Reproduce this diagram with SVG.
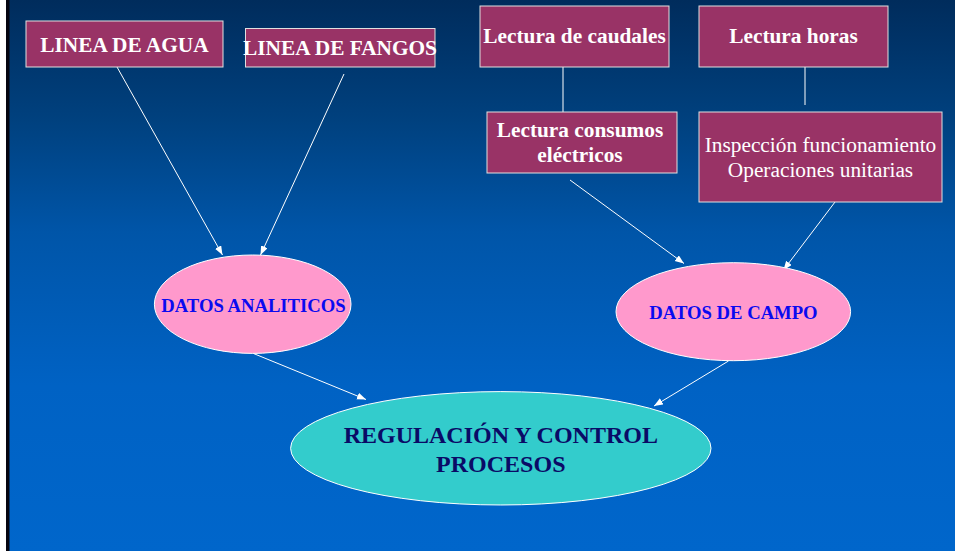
<svg xmlns="http://www.w3.org/2000/svg" width="955" height="551" viewBox="0 0 955 551">
<defs>
<linearGradient id="bg" x1="0" y1="0" x2="0" y2="1">
<stop offset="0" stop-color="#002c5c"/>
<stop offset="0.22" stop-color="#00417f"/>
<stop offset="0.42" stop-color="#0055a8"/>
<stop offset="0.7" stop-color="#0062c4"/>
<stop offset="1" stop-color="#0066cb"/>
</linearGradient>
<marker id="ah" markerUnits="userSpaceOnUse" markerWidth="10" markerHeight="8" refX="9" refY="3.5" orient="auto">
<path d="M0,0 L9,3.5 L0,7 z" fill="#ffffff"/>
</marker>
<style>
.box{fill:#993366;stroke:#e0e0e0;stroke-width:1}
.tb{font-family:"Liberation Serif","Times New Roman",serif;font-weight:bold;font-size:21.33px;fill:#ffffff;text-anchor:middle}
.tr{font-family:"Liberation Serif","Times New Roman",serif;font-size:21.33px;fill:#ffffff;text-anchor:middle}
.pink{fill:#ff99cc;stroke:#ffffff;stroke-width:1}
.cyan{fill:#33cccc;stroke:#ffffff;stroke-width:1}
.eb{font-family:"Liberation Serif","Times New Roman",serif;font-weight:bold;font-size:18.67px;fill:#0a0af0;text-anchor:middle}
.ec{font-family:"Liberation Serif","Times New Roman",serif;font-weight:bold;font-size:24px;fill:#0a0a66;text-anchor:middle}
.ln{stroke:#ffffff;stroke-width:1;fill:none}
.arr{stroke:#ffffff;stroke-width:1;fill:none;marker-end:url(#ah)}
</style>
</defs>
<rect x="0" y="0" width="955" height="551" fill="#ffffff"/>
<rect x="6" y="0" width="4" height="551" fill="#050510"/>
<rect x="9.5" y="0" width="945.5" height="551" fill="url(#bg)"/>

<g id="connectors">
<line class="ln" x1="563" y1="67" x2="563" y2="112"/>
<line class="ln" x1="805" y1="67" x2="805" y2="105"/>
<line class="arr" x1="117" y1="67" x2="222.5" y2="255"/>
<line class="arr" x1="344" y1="74" x2="260.5" y2="255"/>
<line class="arr" x1="570" y1="180" x2="684" y2="263.5"/>
<line class="arr" x1="835" y1="202" x2="783.5" y2="270"/>
<line class="arr" x1="253.5" y1="353.5" x2="366" y2="399.5"/>
<line class="arr" x1="728.5" y1="361" x2="654" y2="406"/>
</g>

<g id="linea-agua">
<rect class="box" x="26" y="21" width="197" height="46"/>
<text class="tb" x="124.5" y="51.5">LINEA DE AGUA</text>
</g>
<g id="linea-fangos">
<rect class="box" x="245.5" y="28.5" width="189.5" height="38.5"/>
<text class="tb" x="340" y="55">LINEA DE FANGOS</text>
</g>
<g id="lectura-caudales">
<rect class="box" x="480" y="6" width="189" height="61"/>
<text class="tb" x="574.5" y="43.3">Lectura de caudales</text>
</g>
<g id="lectura-horas">
<rect class="box" x="699" y="6" width="189" height="61"/>
<text class="tb" x="793.5" y="43.3">Lectura horas</text>
</g>
<g id="lectura-consumos">
<rect class="box" x="487" y="112" width="190" height="61"/>
<text class="tb" x="580" y="136.7">Lectura consumos</text>
<text class="tb" x="580" y="161.7">eléctricos</text>
</g>
<g id="inspeccion">
<rect class="box" x="699" y="112" width="243" height="90"/>
<text class="tr" x="820.5" y="151.7">Inspección funcionamiento</text>
<text class="tr" x="820.5" y="176.7">Operaciones unitarias</text>
</g>
<g id="datos-analiticos">
<ellipse class="pink" cx="252.7" cy="304.2" rx="98.3" ry="49.2"/>
<text class="eb" x="253.5" y="311.7">DATOS ANALITICOS</text>
</g>
<g id="datos-campo">
<ellipse class="pink" cx="733.3" cy="311.7" rx="117.3" ry="49"/>
<text class="eb" x="733.5" y="319">DATOS DE CAMPO</text>
</g>
<g id="regulacion">
<ellipse class="cyan" cx="500.8" cy="448.3" rx="210.2" ry="56.7"/>
<text class="ec" x="500.8" y="443.3">REGULACIÓN Y CONTROL</text>
<text class="ec" x="500.8" y="471.7">PROCESOS</text>
</g>
</svg>
